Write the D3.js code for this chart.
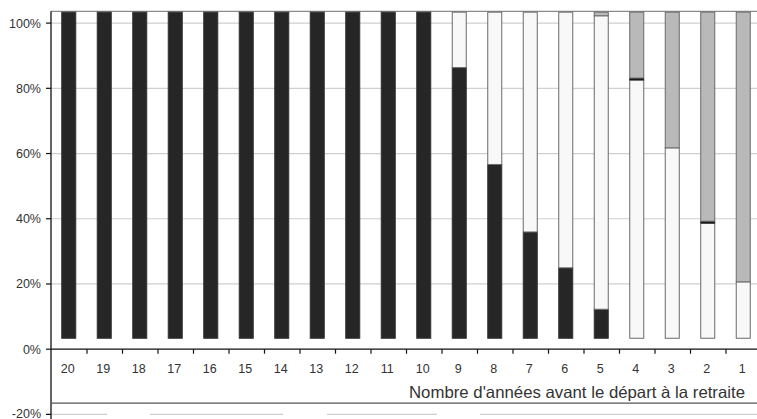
<!DOCTYPE html>
<html><head><meta charset="utf-8">
<script src="https://cdn.jsdelivr.net/npm/d3@7"></script>
<style>
html,body{margin:0;padding:0;background:#fff;}
svg{display:block;font-family:"Liberation Sans",Arial,sans-serif;}
</style></head>
<body><svg id="c" width="757" height="419"></svg>
<script>
const categories = ["20","19","18","17","16","15","14","13","12","11","10","9","8","7","6","5","4","3","2","1"];
const blackSeries = [100,100,100,100,100,100,100,100,100,100,100,83.0,53.3,32.6,21.6,8.9,0,0,0,0];
const whiteSeries = [0,0,0,0,0,0,0,0,0,0,0,17.0,46.7,67.4,78.4,90.0,79.2,58.4,35.3,17.3];
const thinSeries  = [0,0,0,0,0,0,0,0,0,0,0,0,0,0,0,0,0.6,0,0.6,0];
const graySeries  = [0,0,0,0,0,0,0,0,0,0,0,0,0,0,0,1.1,20.2,41.6,64.1,82.7];
const yTicks = [-20,0,20,40,60,80,100];
const baseOffset = 3.35;
const axisTitle = "Nombre d'années avant le départ à la retraite";

const svg = d3.select("#c");
const left = 51, right = 761;
const x = d3.scaleBand().domain(categories).range([left, right]).paddingInner(0.577).paddingOuter(0.2885);
const y = d3.scaleLinear().domain([-20, 100]).range([414.4, 23.1]);
const topY = y(103.6);

// gridlines
svg.append("g").selectAll("line").data(yTicks.filter(d => d > 0)).join("line")
  .attr("x1", left).attr("x2", 757).attr("y1", d => y(d)).attr("y2", d => y(d))
  .attr("stroke", "#cfcfcf").attr("stroke-width", 1.2);
// -20% gridline (interrupted)
svg.append("line").attr("x1", 47).attr("x2", 757).attr("y1", y(-20)).attr("y2", y(-20))
  .attr("stroke", "#cfcfcf").attr("stroke-width", 1.2)
  .attr("stroke-dasharray", "60,43,133,44,110,43,400");
// top border
svg.append("line").attr("x1", left).attr("x2", 757).attr("y1", topY).attr("y2", topY)
  .attr("stroke", "#8a8a8a").attr("stroke-width", 1.2);

// stacked bars
const table = categories.map((c, i) => ({cat: c, black: blackSeries[i], white: whiteSeries[i], thin: thinSeries[i], gray: graySeries[i]}));
const keys = ["black","white","thin","gray"];
const fills = {black: "#262626", white: "#f8f8f8", thin: "#1a1a1a", gray: "#b9b9b9"};
const strokes = {black: "#333", white: "#6a6a6a", thin: "#1a1a1a", gray: "#6a6a6a"};
const stacked = d3.stack().keys(keys)(table);
const g = svg.append("g");
stacked.forEach(layer => {
  g.append("g").selectAll("rect").data(layer.filter(d => d[1] - d[0] > 0)).join("rect")
    .attr("x", d => x(d.data.cat) + 0.5)
    .attr("width", x.bandwidth() - 1)
    .attr("y", d => y(d[1] + baseOffset))
    .attr("height", d => y(d[0] + baseOffset) - y(d[1] + baseOffset))
    .attr("fill", fills[layer.key])
    .attr("stroke", strokes[layer.key])
    .attr("stroke-width", layer.key === "thin" ? 0.8 : 1);
});

// x axis line and ticks
svg.append("line").attr("x1", left).attr("x2", 757).attr("y1", y(0)).attr("y2", y(0))
  .attr("stroke", "#111").attr("stroke-width", 1.3);
svg.append("g").selectAll("line").data(categories.slice(1)).join("line")
  .attr("x1", d => x(d) - x.step() * x.paddingInner() / 2 + 0.5)
  .attr("x2", d => x(d) - x.step() * x.paddingInner() / 2 + 0.5)
  .attr("y1", y(0)).attr("y2", y(0) + 4.5)
  .attr("stroke", "#111").attr("stroke-width", 1.2);
svg.append("g").selectAll("text").data(categories).join("text")
  .attr("x", d => x(d) + x.bandwidth() / 2 - 1)
  .attr("y", y(0) + 23.5)
  .attr("text-anchor", "middle")
  .attr("font-size", 12.5).attr("fill", "#333")
  .text(d => d);

// y axis
svg.append("line").attr("x1", left).attr("x2", left).attr("y1", topY).attr("y2", 419)
  .attr("stroke", "#111").attr("stroke-width", 1.3);
svg.append("g").selectAll("line").data(yTicks).join("line")
  .attr("x1", left - 5).attr("x2", left).attr("y1", d => y(d)).attr("y2", d => y(d))
  .attr("stroke", "#111").attr("stroke-width", 1.2);
svg.append("g").selectAll("text").data(yTicks).join("text")
  .attr("x", left - 10).attr("y", d => Math.min(y(d) + 4.5, 417.5))
  .attr("text-anchor", "end")
  .attr("font-size", 12.5).attr("fill", "#333")
  .text(d => d + "%");

// axis title with underline rule
const titleY = y(0) + 49;
svg.append("text").attr("x", 745).attr("y", titleY).attr("text-anchor", "end")
  .attr("font-size", 16.5).attr("fill", "#333")
  .attr("textLength", 336).attr("lengthAdjust", "spacingAndGlyphs")
  .text(axisTitle);
svg.append("line").attr("x1", left).attr("x2", 757).attr("y1", titleY + 5).attr("y2", titleY + 5)
  .attr("stroke", "#555").attr("stroke-width", 1.2);
</script></body></html>
